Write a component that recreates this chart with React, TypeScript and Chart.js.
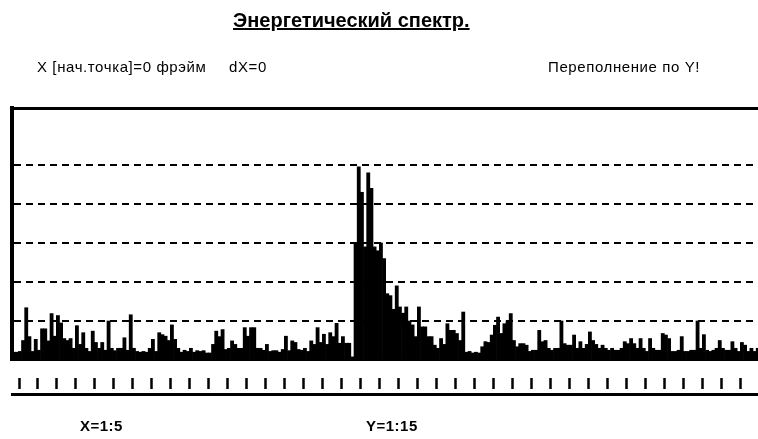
import React, { useEffect, useRef } from "react";
import { Chart, registerables } from "chart.js";

Chart.register(...registerables);

// ---- texts ----
const TITLE = "Энергетический спектр.";
const INFO_START = "X [нач.точка]=0 фрэйм";
const INFO_DX = "dX=0";
const INFO_OVERFLOW = "Переполнение по Y!";
const X_SCALE_LABEL = "X=1:5";
const Y_SCALE_LABEL = "Y=1:15";

// ---- data: counts per channel (in grid units) ----
const COUNTS_LOW = [
  0.2, 0.2, 0.22, 0.5, 1.34, 0.6, 0.22, 0.53, 0.25, 0.8,
  0.8, 0.49, 1.19, 0.61, 1.14, 0.95, 0.55, 0.5, 0.55, 0.3,
  0.88, 0.4, 0.7, 0.3, 0.22, 0.74, 0.45, 0.3, 0.45, 0.25,
  1.0, 0.3, 0.24, 0.3, 0.3, 0.57, 0.25, 1.16, 0.3, 0.22,
  0.2, 0.22, 0.2, 0.3, 0.53, 0.22, 0.7, 0.65, 0.61, 0.5,
  0.9, 0.53, 0.3, 0.2, 0.25, 0.22, 0.3, 0.2, 0.24, 0.22,
  0.24, 0.18, 0.18, 0.4, 0.74, 0.6, 0.78, 0.27, 0.3, 0.49,
  0.4, 0.3, 0.3, 0.83, 0.61, 0.83, 0.83, 0.3, 0.3, 0.25,
  0.4, 0.22, 0.24, 0.24, 0.2, 0.27, 0.61, 0.24, 0.49, 0.45,
  0.27, 0.25, 0.3, 0.22, 0.49, 0.4, 0.83, 0.45, 0.66, 0.4,
  0.7, 0.6, 0.94, 0.43, 0.6, 0.43, 0.43, 0.08,
];
const COUNTS_PEAK = [
  3.0, 4.95, 4.3, 2.9, 4.8, 4.4, 2.9, 2.8, 3.0, 2.6,
  1.7, 1.65, 1.3, 1.9, 1.36, 1.2, 1.36, 1.0, 0.9, 0.6,
  1.36, 0.85, 0.85, 0.6, 0.6, 0.38, 0.3, 0.55, 0.4, 0.93,
  0.76, 0.76, 0.68, 0.5, 1.23,
];
const COUNTS_HIGH = [
  0.2, 0.22, 0.18, 0.2, 0.18, 0.34, 0.47, 0.45, 0.64, 0.89,
  1.1, 0.68, 0.93, 1.0, 1.19, 0.5, 0.34, 0.42, 0.42, 0.38,
  0.22, 0.25, 0.25, 0.76, 0.47, 0.5, 0.3, 0.25, 0.3, 0.3,
  1.0, 0.42, 0.38, 0.38, 0.64, 0.3, 0.47, 0.3, 0.4, 0.72,
  0.5, 0.4, 0.3, 0.38, 0.3, 0.25, 0.3, 0.25, 0.25, 0.3,
  0.47, 0.42, 0.55, 0.42, 0.3, 0.55, 0.3, 0.22, 0.55, 0.3,
  0.25, 0.25, 0.68, 0.64, 0.55, 0.22, 0.22, 0.25, 0.6, 0.22,
  0.22, 0.25, 0.25, 1.0, 0.3, 0.65, 0.25, 0.22, 0.25, 0.3,
  0.5, 0.3, 0.25, 0.25, 0.47, 0.3, 0.22, 0.45, 0.38, 0.22,
  0.3, 0.22, 0.3, 0.3, 0.45, 0.25, 0.3,
];
const COUNTS = [...COUNTS_LOW, ...COUNTS_PEAK, ...COUNTS_HIGH];
const CHANNELS = COUNTS.map((_, i) => i + 0.5);

// ---- axes ----
const GRID_LEVELS = [1, 2, 3, 4, 5];
const Y_MAX = 6.46;
const X_MAX = 240;
const TICK_START = 4.9;
const TICK_STEP = 6;
const TICK_COUNT = 40;
const TICK_VALUES = Array.from({ length: TICK_COUNT }, (_, k) => TICK_START + k * TICK_STEP);

const FONT = '"Liberation Sans", Arial, Helvetica, sans-serif';

export default function App() {
  const canvasRef = useRef<HTMLCanvasElement | null>(null);

  useEffect(() => {
    const canvas = canvasRef.current;
    if (!canvas) return;
    const chart = new Chart(canvas, {
      type: "bar",
      data: {
        datasets: [
          {
            data: COUNTS.map((v, i) => ({ x: CHANNELS[i], y: v })),
            backgroundColor: "#000",
            borderWidth: 0,
            barPercentage: 1,
            categoryPercentage: 1,
            xAxisID: "x",
            yAxisID: "y",
          } as any,
        ],
      },
      options: {
        responsive: false,
        animation: false,
        events: [],
        layout: { padding: { left: 12, top: 108, right: 28, bottom: 45 } },
        plugins: {
          legend: { display: false },
          tooltip: { enabled: false },
          title: { display: false },
        },
        scales: {
          x: {
            type: "linear",
            position: "bottom",
            min: 0,
            max: X_MAX,
            weight: 0,
            offset: false,
            grid: {
              display: true,
              drawOnChartArea: false,
              drawTicks: true,
              tickLength: 34,
              tickColor: "#000",
              tickWidth: (ctx: any) => (ctx.index === 0 ? 4 : 2.5),
              tickBorderDash: (ctx: any) => (ctx.index === 0 ? [] : [11, 17]),
              tickBorderDashOffset: (ctx: any) => (ctx.index === 0 ? 0 : 11),
            } as any,
            border: { display: true, color: "#000", width: 2 },
            ticks: { display: false, autoSkip: false },
            afterBuildTicks: (scale: any) => {
              scale.ticks = [0, ...TICK_VALUES].map((v) => ({ value: v }));
            },
          },
          xFrame: {
            type: "linear",
            position: "bottom",
            min: 0,
            max: 1,
            weight: 10,
            grid: { display: false, drawTicks: false },
            border: { display: true, color: "#000", width: 3 },
            ticks: { display: false },
          },
          xTop: {
            type: "linear",
            position: "top",
            min: 0,
            max: 1,
            grid: { display: false, drawTicks: false },
            border: { display: true, color: "#000", width: 3 },
            ticks: { display: false },
          },
          y: {
            type: "linear",
            min: 0,
            max: Y_MAX,
            grid: {
              display: true,
              drawTicks: false,
              lineWidth: 2,
              color: (ctx: any) =>
                ctx.tick && GRID_LEVELS.includes(ctx.tick.value) ? "#000" : "rgba(0,0,0,0)",
            },
            border: { display: true, color: "#000", width: 4, dash: [7, 5] },
            ticks: { display: false, stepSize: 1 },
          },
        } as any,
      },
    });
    return () => chart.destroy();
  }, []);

  const text = (
    s: string,
    left: number,
    top: number,
    size: number,
    bold: boolean,
    spacing = 0,
    underline = false
  ) => (
    <div
      style={{
        position: "absolute",
        left,
        top,
        fontFamily: FONT,
        fontSize: size,
        fontWeight: bold ? 700 : 400,
        letterSpacing: spacing,
        textDecoration: underline ? "underline" : "none",
        textDecorationThickness: underline ? 2 : undefined,
        whiteSpace: "nowrap",
        lineHeight: 1,
        color: "#000",
      }}
    >
      {s}
    </div>
  );

  return (
    <div
      style={{
        position: "fixed",
        left: 0,
        top: 0,
        width: 758,
        height: 439,
        overflow: "hidden",
        background: "#fff",
      }}
    >
      <canvas
        ref={canvasRef}
        width={800}
        height={439}
        style={{ position: "absolute", left: 0, top: 0, width: 800, height: 439 }}
      />
      {text(TITLE, 233, 10, 20, true, 0, true)}
      {text(INFO_START, 37, 59, 15, false, 0.6)}
      {text(INFO_DX, 229, 59, 15, false, 0.6)}
      {text(INFO_OVERFLOW, 548, 59, 15, false, 0.6)}
      {text(X_SCALE_LABEL, 80, 418, 15, true, 0.5)}
      {text(Y_SCALE_LABEL, 366, 418, 15, true, 0.5)}
    </div>
  );
}
